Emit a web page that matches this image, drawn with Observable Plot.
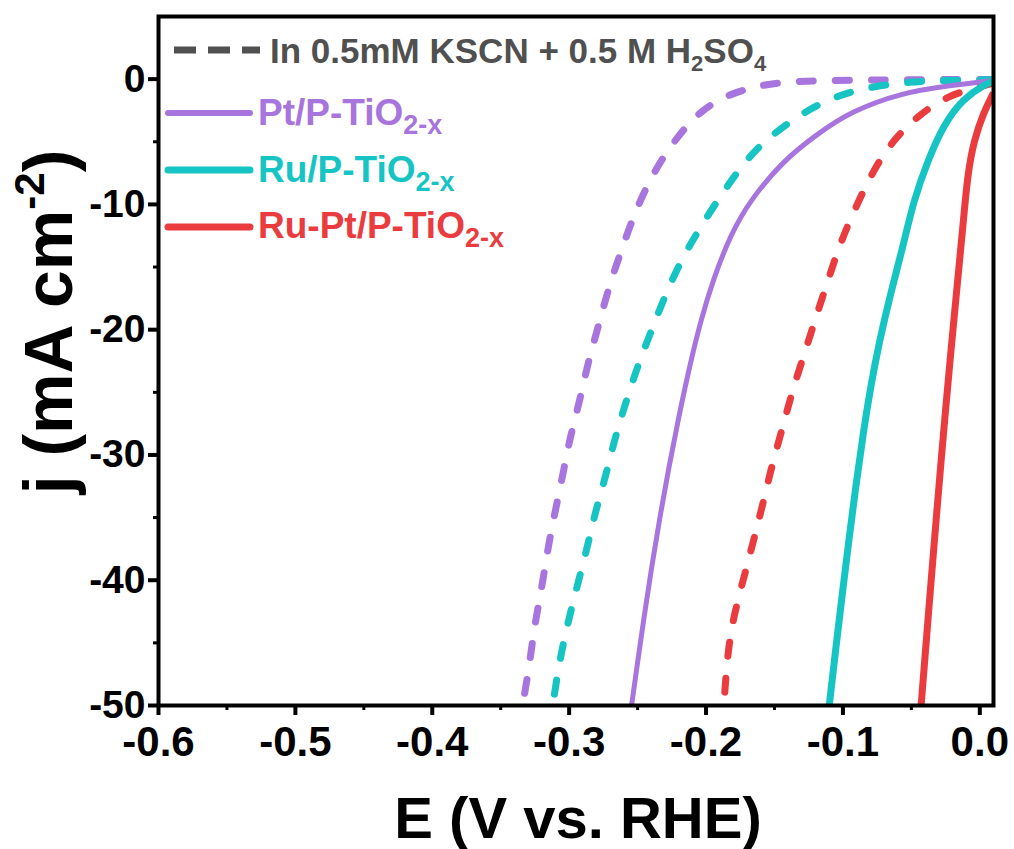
<!DOCTYPE html>
<html>
<head>
<meta charset="utf-8">
<script src="https://cdn.jsdelivr.net/npm/d3@7"></script>
<script src="https://cdn.jsdelivr.net/npm/@observablehq/plot@0.6"></script>
<style>
  html, body { margin: 0; padding: 0; background: #fff; }
  #chart svg { display: block; }
</style>
</head>
<body>
<div id="chart"></div>
<script>
// ---- Data ----
const colors = { Pt: "#a874dd", Ru: "#17c4c4", RuPt: "#ea3c3e", gray: "#505050" };

// Pt/P-TiO2-x in 0.5 mM KSCN + 0.5 M H2SO4 (dashed)
const E_Pt_KSCN = [0.01, -0.04, -0.08, -0.115, -0.143, -0.165, -0.182, -0.195, -0.2095, -0.228, -0.2425, -0.2535, -0.263, -0.2718, -0.2791, -0.2864, -0.2923, -0.2996, -0.3048, -0.3106, -0.3158, -0.3201, -0.3253, -0.3289, -0.334];
const j_Pt_KSCN = [-0.02, -0.04, -0.07, -0.12, -0.2, -0.6, -1.2, -1.9, -3.1, -5.6, -8.3, -11.1, -14.0, -16.9, -19.9, -22.7, -25.7, -28.7, -31.7, -34.7, -37.6, -40.7, -43.6, -46.7, -50];

// Ru/P-TiO2-x in KSCN (dashed)
const E_Ru_KSCN = [0.01, -0.026, -0.051, -0.080, -0.107, -0.131, -0.155, -0.172, -0.188, -0.203, -0.218, -0.230, -0.240, -0.250, -0.2586, -0.2667, -0.2733, -0.2813, -0.2872, -0.2945, -0.3011, -0.307, -0.312];
const j_Ru_KSCN = [-0.05, -0.1, -0.2, -0.6, -1.4, -2.8, -4.7, -6.6, -9.1, -11.6, -14.4, -17.3, -20.1, -22.9, -25.8, -28.7, -31.7, -34.7, -37.6, -40.6, -43.5, -46.4, -50];

// Ru-Pt/P-TiO2-x in KSCN (dashed)
const E_RuPt_KSCN = [0.01, 0.0007, -0.021, -0.043, -0.063, -0.078, -0.091, -0.102, -0.111, -0.120, -0.1275, -0.137, -0.144, -0.1516, -0.158, -0.165, -0.1714, -0.1788, -0.184, -0.187];
const j_RuPt_KSCN = [-0.3, -0.6, -1.2, -2.7, -4.8, -7.3, -10.3, -13.1, -16.1, -19.1, -21.7, -24.9, -27.8, -30.7, -33.7, -36.7, -39.4, -42.4, -45.4, -50];

// Pt/P-TiO2-x (solid)
const E_Pt = [0.01, -0.021, -0.058, -0.0945, -0.119, -0.1436, -0.168, -0.182, -0.1945, -0.204, -0.2122, -0.220, -0.2272, -0.2338, -0.2398, -0.2454, -0.2506, -0.2544];
const j_Pt = [-0.1, -0.5, -1.1, -2.6, -4.4, -6.5, -9.7, -12.4, -15.9, -19.3, -23.0, -27.0, -31.0, -35.0, -39.0, -43.0, -47.0, -50];

// Ru/P-TiO2-x (solid)
const E_Ru = [0.01, 0.004, -0.0117, -0.0264, -0.038, -0.0484, -0.0564, -0.0652, -0.0733, -0.0797, -0.0855, -0.0906, -0.0953, -0.0998, -0.1042, -0.1100];
const j_Ru = [-0.16, -0.4, -1.5, -3.6, -6.5, -9.7, -13.5, -17.1, -20.9, -24.5, -28.5, -32.5, -36.5, -40.5, -44.5, -50];

// Ru-Pt/P-TiO2-x (solid)
const E_RuPt = [0.01, 0.003, -0.0044, -0.0088, -0.0113, -0.0148, -0.0183, -0.0218, -0.0251, -0.0283, -0.0314, -0.0344, -0.0374, -0.0403, -0.0429];
const j_RuPt = [-1.1, -2.6, -4.9, -7.6, -10.5, -14.5, -18.5, -22.5, -26.5, -30.5, -34.5, -38.5, -42.5, -46.5, -50];

const xTicks = [-0.6, -0.5, -0.4, -0.3, -0.2, -0.1, 0.0];
const xMinor = [-0.55, -0.45, -0.35, -0.25, -0.15, -0.05];
const yTicks = [0, -10, -20, -30, -40, -50];
const yMinor = [-5, -15, -25, -35, -45];

const series = [
  { name: "Pt_KSCN", E: E_Pt_KSCN, j: j_Pt_KSCN, color: colors.Pt, dashed: true, w: 7 },
  { name: "Ru_KSCN", E: E_Ru_KSCN, j: j_Ru_KSCN, color: colors.Ru, dashed: true, w: 7 },
  { name: "RuPt_KSCN", E: E_RuPt_KSCN, j: j_RuPt_KSCN, color: colors.RuPt, dashed: true, w: 7 },
  { name: "Pt", E: E_Pt, j: j_Pt, color: colors.Pt, dashed: false, w: 5 },
  { name: "Ru", E: E_Ru, j: j_Ru, color: colors.Ru, dashed: false, w: 7 },
  { name: "RuPt", E: E_RuPt, j: j_RuPt, color: colors.RuPt, dashed: false, w: 7 }
];

const lineMarks = series.map(s => {
  const rows = s.E.map((e, i) => ({ E: e, j: s.j[i] }));
  return Plot.line(rows, {
    x: "E", y: "j", stroke: s.color, strokeWidth: s.w,
    strokeDasharray: s.dashed ? "14,22" : null,
    strokeLinecap: s.dashed ? "round" : "butt",
    curve: "basis", clip: true
  });
});

const FONT = "'Liberation Sans', Arial, Helvetica, sans-serif";

const chart = Plot.plot({
  width: 1014, height: 849,
  marginLeft: 158, marginRight: 21, marginTop: 16, marginBottom: 144,
  style: { fontFamily: FONT, fontWeight: "bold", color: "#000", background: "#fff", overflow: "visible" },
  x: { domain: [-0.6, 0.01] },
  y: { domain: [-50, 5] },
  marks: [
    ...lineMarks,
    Plot.axisX(xMinor, { tickSize: 5, strokeWidth: 3, tickFormat: () => "", label: null }),
    Plot.axisY(yMinor, { tickSize: 5, strokeWidth: 3, tickFormat: () => "", label: null }),
    Plot.axisX(xTicks, { tickSize: 10, strokeWidth: 4, tickPadding: 11, tickFormat: d => d.toFixed(1), label: null }),
    Plot.axisY(yTicks, { tickSize: 10, strokeWidth: 4, tickPadding: 3, tickFormat: d => String(d), label: null }),
    Plot.frame({ stroke: "#000", strokeWidth: 4 })
  ]
});
document.getElementById("chart").appendChild(chart);

const svg = d3.select(chart);
// tick label sizes
svg.selectAll("text").each(function () {
  const s = this.textContent.trim();
  if (s === "") return;
  const el = d3.select(this);
  if (s.includes(".")) el.style("font-size", "42px").style("font-weight", "bold");
  else el.style("font-size", "39px").style("font-weight", "bold");
});

// ---- Titles and legend added into the same SVG ----
const g = svg.append("g").attr("font-family", FONT).attr("font-weight", "bold");

// x title
g.append("text").attr("x", 578).attr("y", 838).attr("text-anchor", "middle")
  .attr("font-size", 58).attr("fill", "#000").text("E (V vs. RHE)");

// y title
const yt = g.append("text").attr("transform", "translate(72,322) rotate(-90)")
  .attr("text-anchor", "middle").attr("font-size", 68).attr("fill", "#000");
yt.append("tspan").text("j (mA cm");
yt.append("tspan").attr("font-size", 42).attr("dy", -28).text("-2");
yt.append("tspan").attr("dy", 28).text(")");

// legend
const legendRows = [
  { label: "Pt/P-TiO", sub: "2-x", color: colors.Pt, w: 6, y: 113, base: 125 },
  { label: "Ru/P-TiO", sub: "2-x", color: colors.Ru, w: 7, y: 170, base: 182 },
  { label: "Ru-Pt/P-TiO", sub: "2-x", color: colors.RuPt, w: 7, y: 227, base: 238 }
];
g.append("line").attr("x1", 174).attr("x2", 260).attr("y1", 50).attr("y2", 50)
  .attr("stroke", colors.gray).attr("stroke-width", 7).attr("stroke-dasharray", "22,12");
const gt = g.append("text").attr("x", 270).attr("y", 63).attr("text-anchor", "start")
  .attr("font-size", 35).attr("fill", colors.gray);
gt.append("tspan").text("In 0.5mM KSCN + 0.5 M H");
gt.append("tspan").attr("font-size", 22).attr("dy", 8).text("2");
gt.append("tspan").attr("dy", -8).text("SO");
gt.append("tspan").attr("font-size", 22).attr("dy", 8).text("4");

legendRows.forEach(r => {
  g.append("line").attr("x1", 168).attr("x2", 250).attr("y1", r.y).attr("y2", r.y)
    .attr("stroke", r.color).attr("stroke-width", r.w).attr("stroke-linecap", "round");
  const t = g.append("text").attr("x", 258).attr("y", r.base).attr("text-anchor", "start")
    .attr("font-size", 37).attr("fill", r.color);
  t.append("tspan").text(r.label);
  t.append("tspan").attr("font-size", 27).attr("dy", 9).text(r.sub);
});
</script>
</body>
</html>
